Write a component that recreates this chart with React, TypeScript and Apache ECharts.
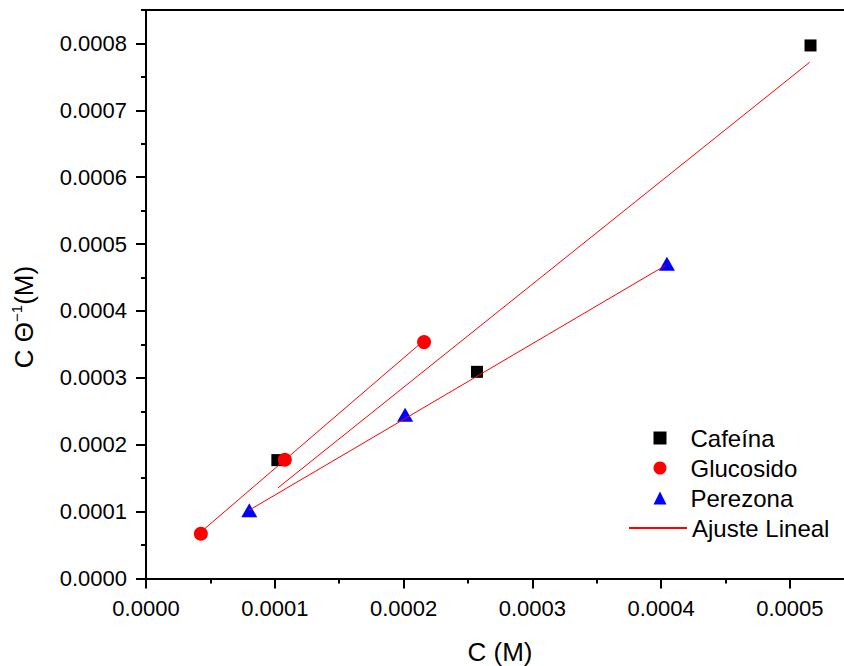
import React, { useEffect, useRef } from "react";
import * as echarts from "echarts";

// ---- Data ----
const cafeinaX = [0.000102, 0.000257, 0.000516];
const cafeinaY = [0.000177, 0.000309, 0.000797];

const glucosidoX = [0.0000426, 0.0001078, 0.0002159];
const glucosidoY = [0.000067, 0.0001776, 0.0003535];

const perezonaX = [0.0000802, 0.0002012, 0.0004045];
const perezonaY = [0.0001019, 0.0002449, 0.0004705];

// Linear fit end points
const fitCafeinaX = [0.0001026, 0.0005154];
const fitCafeinaY = [0.0001357, 0.000772];
const fitGlucosidoX = [0.0000426, 0.0002159];
const fitGlucosidoY = [0.0000695, 0.000356];
const fitPerezonaX = [0.00008, 0.0004033];
const fitPerezonaY = [0.000102, 0.000468];

// Ticks
const xTicks = [0, 0.0001, 0.0002, 0.0003, 0.0004, 0.0005];
const xMinorTicks = [0.00005, 0.00015, 0.00025, 0.00035, 0.00045];
const yTicks = [0, 0.0001, 0.0002, 0.0003, 0.0004, 0.0005, 0.0006, 0.0007, 0.0008];
const yMinorTicks = [0.00005, 0.00015, 0.00025, 0.00035, 0.00045, 0.00055, 0.00065, 0.00075, 0.00085];

const markerNames = ["Cafeína", "Glucosido", "Perezona"];
const fitName = "Ajuste Lineal";

const X_MAX = 0.000542;
const Y_MAX = 0.00085;

const FONT = "'Liberation Sans', Arial, sans-serif";

const pairs = (xs: number[], ys: number[]) => xs.map((x, i) => [x, ys[i]]);

export default function App() {
  const ref = useRef<HTMLDivElement>(null);

  useEffect(() => {
    if (!ref.current) return;
    const chart = echarts.init(ref.current, null, { renderer: "svg" });

    const axisLine = { show: true, lineStyle: { color: "#000", width: 2 } };
    const fmt = (v: number) => v.toFixed(4);

    const fitLine = (xs: number[], ys: number[]) => ({
      name: fitName,
      type: "line",
      data: pairs(xs, ys),
      symbol: "none",
      showSymbol: false,
      lineStyle: { color: "#ff0000", width: 1 },
      itemStyle: { color: "#ff0000" },
      xAxisIndex: 0,
      yAxisIndex: 0,
      z: 3,
    });

    const legendText = { fontSize: 24, lineHeight: 24, color: "#000", fontFamily: FONT };

    chart.setOption({
      animation: false,
      backgroundColor: "#fff",
      textStyle: { fontFamily: FONT },
      grid: {
        left: 146,
        top: 10,
        right: 0,
        bottom: 87.5,
        containLabel: false,
        outerBoundsMode: "none",
      },
      legend: [
        {
          orient: "vertical",
          left: 648.5,
          top: 421,
          itemWidth: 13,
          itemHeight: 13,
          itemGap: 6,
          textStyle: { ...legendText, padding: [0, 0, 0, 19] },
          data: markerNames,
        },
        {
          orient: "vertical",
          left: 623,
          top: 511,
          itemWidth: 58,
          itemHeight: 13,
          itemGap: 6,
          textStyle: legendText,
          data: [{ name: fitName, itemStyle: { opacity: 0 } }],
        },
      ],
      xAxis: [
        {
          type: "value",
          position: "bottom",
          min: 0,
          max: X_MAX,
          axisLine,
          axisTick: {
            show: true,
            customValues: xTicks,
            length: 10,
            lineStyle: { color: "#000", width: 2 },
          },
          axisLabel: {
            customValues: xTicks,
            formatter: fmt,
            fontSize: 22,
            color: "#000",
            margin: 19,
            fontFamily: FONT,
          },
          splitLine: { show: false },
          name: "C (M)",
          nameLocation: "middle",
          nameGap: 60,
          nameTextStyle: {
            fontSize: 26,
            lineHeight: 26,
            color: "#000",
            fontFamily: FONT,
            padding: [0, 0, 0, 10],
          },
        },
        {
          type: "value",
          position: "bottom",
          min: 0,
          max: X_MAX,
          axisLine: { show: false },
          axisTick: {
            show: true,
            customValues: xMinorTicks,
            length: 5,
            lineStyle: { color: "#000", width: 2 },
          },
          axisLabel: { show: false },
          splitLine: { show: false },
        },
        {
          type: "value",
          position: "top",
          min: 0,
          max: X_MAX,
          axisLine,
          axisTick: { show: false },
          axisLabel: { show: false },
          splitLine: { show: false },
        },
      ],
      yAxis: [
        {
          type: "value",
          position: "left",
          min: 0,
          max: Y_MAX,
          axisLine,
          axisTick: {
            show: true,
            customValues: yTicks,
            length: 10,
            lineStyle: { color: "#000", width: 2 },
          },
          axisLabel: {
            customValues: yTicks,
            formatter: fmt,
            fontSize: 22,
            color: "#000",
            margin: 19,
            fontFamily: FONT,
          },
          splitLine: { show: false },
        },
        {
          type: "value",
          position: "left",
          min: 0,
          max: Y_MAX,
          axisLine: { show: false },
          axisTick: {
            show: true,
            customValues: yMinorTicks,
            length: 5,
            lineStyle: { color: "#000", width: 2 },
          },
          axisLabel: { show: false },
          splitLine: { show: false },
        },
      ],
      graphic: [
        {
          type: "text",
          x: 24,
          y: 317,
          rotation: Math.PI / 2,
          style: {
            text: "{a|C Θ}{s|−1}{a|(M)}",
            rich: {
              a: { fontSize: 26, fontFamily: FONT, fill: "#000", lineHeight: 30 },
              s: { fontSize: 15, fontFamily: FONT, fill: "#000", verticalAlign: "top", lineHeight: 15 },
            },
            fill: "#000",
            align: "center",
            verticalAlign: "middle",
            textAlign: "center",
            textVerticalAlign: "middle",
          },
        },
      ],
      series: [
        {
          name: "Cafeína",
          type: "scatter",
          symbol: "rect",
          symbolSize: 12,
          itemStyle: { color: "#000000", opacity: 1 },
          data: pairs(cafeinaX, cafeinaY),
          xAxisIndex: 0,
          yAxisIndex: 0,
          z: 2,
        },
        {
          name: "Glucosido",
          type: "scatter",
          symbol: "circle",
          symbolSize: 14,
          itemStyle: { color: "#ff0000", opacity: 1 },
          data: pairs(glucosidoX, glucosidoY),
          xAxisIndex: 0,
          yAxisIndex: 0,
          z: 2,
        },
        {
          name: "Perezona",
          type: "scatter",
          symbol: "triangle",
          symbolSize: [16, 14],
          itemStyle: { color: "#0000ff", opacity: 1 },
          data: pairs(perezonaX, perezonaY),
          xAxisIndex: 0,
          yAxisIndex: 0,
          z: 2,
        },
        fitLine(fitCafeinaX, fitCafeinaY),
        fitLine(fitGlucosidoX, fitGlucosidoY),
        fitLine(fitPerezonaX, fitPerezonaY),
      ],
    });

    return () => {
      chart.dispose();
    };
  }, []);

  return (
    <div
      ref={ref}
      style={{ position: "absolute", left: 0, top: 0, width: 844, height: 666, background: "#fff" }}
    />
  );
}
